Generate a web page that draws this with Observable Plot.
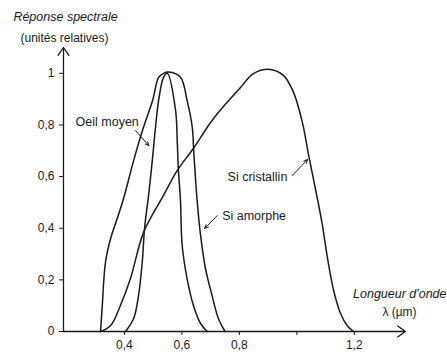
<!DOCTYPE html>
<html>
<head>
<meta charset="utf-8">
<script src="https://cdn.jsdelivr.net/npm/d3@7"></script>
<script src="https://cdn.jsdelivr.net/npm/@observablehq/plot@0.6"></script>
<style>
  html, body { margin: 0; padding: 0; background: white; }
</style>
</head>
<body>
<div id="chart"></div>
<script>
// ---- Data ----
const eyeLambda = [0.404,0.432,0.449,0.462,0.470,0.484,0.497,0.508,0.519,0.536,0.549,0.578,0.584,0.588,0.595,0.601,0.618,0.640,0.665,0.688];
const eyeValue  = [0,0.050,0.139,0.268,0.399,0.527,0.662,0.790,0.895,0.984,1.0,0.856,0.728,0.624,0.507,0.333,0.205,0.101,0.031,0];

const amorLambda = [0.317,0.323,0.334,0.352,0.375,0.397,0.432,0.466,0.498,0.519,0.536,0.553,0.595,0.618,0.636,0.641,0.647,0.653,0.665,0.682,0.705,0.727,0.750];
const amorValue  = [0,0.101,0.268,0.360,0.438,0.515,0.662,0.790,0.895,0.984,1.0,1.005,0.985,0.895,0.791,0.701,0.598,0.507,0.372,0.244,0.139,0.050,0];

const cristLambda = [0.317,0.352,0.386,0.421,0.467,0.536,0.584,0.640,0.710,0.804,0.849,0.908,0.954,0.988,1.019,1.041,1.065,1.088,1.106,1.128,1.152,1.175,1.197];
const cristValue  = [0,0.023,0.101,0.205,0.385,0.527,0.624,0.709,0.825,0.945,0.999,1.015,0.991,0.927,0.811,0.682,0.550,0.418,0.288,0.159,0.070,0.023,0];

const xTicks = [0.4, 0.6, 0.8, 1.0, 1.2];
const yTicks = [0, 0.2, 0.4, 0.6, 0.8, 1];
const xAxisExtent = [0.188, 1.378];
const yAxisExtent = [0, 1.1];

const labelNames   = ["Oeil moyen", "Si cristallin", "Si amorphe"];
const labelLambda  = [0.230, 0.759, 0.740];
const labelValue   = [0.813, 0.598, 0.449];
const pointerFromLambda = [0.4385, 0.984, 0.723];
const pointerFromValue  = [0.778, 0.604, 0.449];
const pointerToLambda   = [0.485, 1.037, 0.679];
const pointerToValue    = [0.720, 0.666, 0.399];

const yTitle = ["Réponse spectrale", "(unités relatives)"];
const xTitle = ["Longueur d'onde", "λ (µm)"];

// ---- Build tables ----
const series = [
  ...eyeLambda.map((x, i) => ({series: "Oeil moyen", x, y: eyeValue[i]})),
  ...amorLambda.map((x, i) => ({series: "Si amorphe", x, y: amorValue[i]})),
  ...cristLambda.map((x, i) => ({series: "Si cristallin", x, y: cristValue[i]}))
];
const labels = labelNames.map((t, i) => ({t, x: labelLambda[i], y: labelValue[i]}));
const pointers = labelNames.map((t, i) => ({
  x1: pointerFromLambda[i], y1: pointerFromValue[i], x2: pointerToLambda[i], y2: pointerToValue[i]
}));
const axes = [
  {x1: xAxisExtent[0], y1: yAxisExtent[0], x2: xAxisExtent[1], y2: yAxisExtent[0]},
  {x1: xAxisExtent[0], y1: yAxisExtent[0], x2: xAxisExtent[0], y2: yAxisExtent[1]}
];
const fmt = d => String(d).replace(".", ",");

const ink = "#1a1a1a";
const font = "Liberation Sans, Arial, sans-serif";

const chart = Plot.plot({
  width: 447,
  height: 358,
  marginLeft: 63,
  marginRight: 42,
  marginTop: 47,
  marginBottom: 27,
  style: {fontFamily: font, fontSize: "12px", color: ink, background: "white"},
  x: {domain: xAxisExtent},
  y: {domain: yAxisExtent},
  marks: [
    Plot.axisX({ticks: xTicks, tickSize: 4, tickPadding: 5, fontSize: 12, label: null,
      tickFormat: d => d === 1 ? "" : fmt(d)}),
    Plot.axisY({ticks: yTicks, tickSize: 4, tickPadding: 5, fontSize: 12, label: null,
      tickFormat: fmt}),
    Plot.arrow(axes, {x1: "x1", y1: "y1", x2: "x2", y2: "y2", stroke: ink, strokeWidth: 1.3,
      headLength: 11, headAngle: 70}),
    Plot.line(series, {x: "x", y: "y", z: "series", stroke: ink, strokeWidth: 1.5, curve: "catmull-rom"}),
    Plot.arrow(pointers, {x1: "x1", y1: "y1", x2: "x2", y2: "y2", stroke: ink, strokeWidth: 1,
      headLength: 6, headAngle: 50}),
    Plot.text(labels, {x: "x", y: "y", text: "t", textAnchor: "start", fontSize: 12.5, fill: ink}),
    Plot.text([yTitle[0]], {frameAnchor: "top-left", dx: 2, dy: -35, text: d => d,
      textAnchor: "middle", fontStyle: "italic", fontSize: 12.5, fill: ink}),
    Plot.text([yTitle[1]], {frameAnchor: "top-left", dx: 1, dy: -14, text: d => d,
      textAnchor: "middle", fontSize: 12, fill: ink}),
    Plot.text([xTitle[0]], {frameAnchor: "bottom-right", dx: 41, dy: -34, text: d => d,
      textAnchor: "end", fontStyle: "italic", fontSize: 12.5, fill: ink}),
    Plot.text([xTitle[1]], {frameAnchor: "bottom-right", dx: -6, dy: -16, text: d => d,
      textAnchor: "middle", fontSize: 12, fill: ink})
  ]
});
document.getElementById("chart").appendChild(chart);
</script>
</body>
</html>
